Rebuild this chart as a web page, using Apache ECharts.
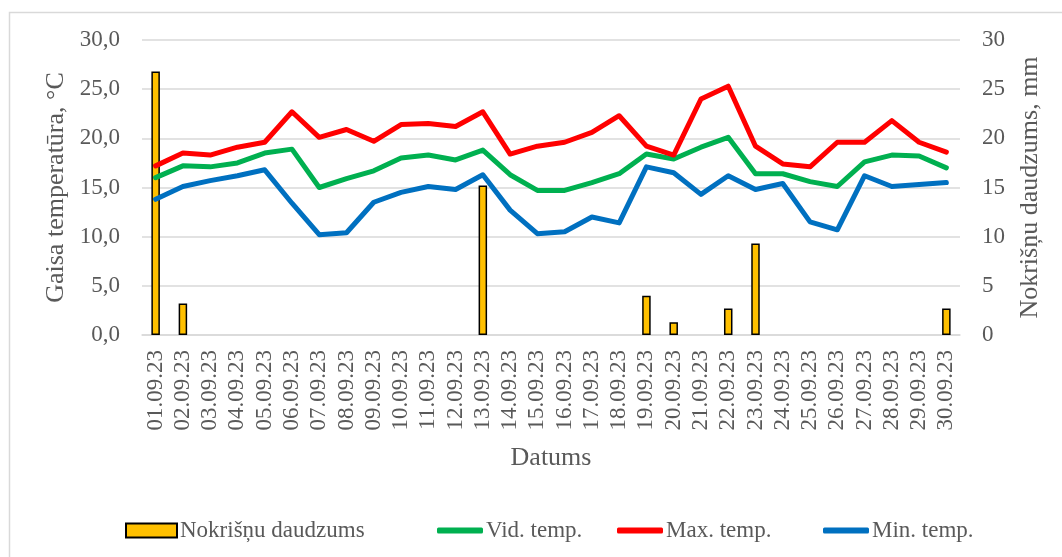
<!DOCTYPE html>
<html>
<head>
<meta charset="utf-8">
<script src="https://cdn.jsdelivr.net/npm/echarts@6/dist/echarts.min.js"></script>
<style>
  html, body { margin: 0; padding: 0; background: #ffffff; }
  #chart { width: 1062px; height: 557px; }
</style>
</head>
<body>
<div id="chart"></div>
<script>
// Daily weather, September 2023
const dates = ['01.09.23','02.09.23','03.09.23','04.09.23','05.09.23','06.09.23','07.09.23','08.09.23','09.09.23','10.09.23',
               '11.09.23','12.09.23','13.09.23','14.09.23','15.09.23','16.09.23','17.09.23','18.09.23','19.09.23','20.09.23',
               '21.09.23','22.09.23','23.09.23','24.09.23','25.09.23','26.09.23','27.09.23','28.09.23','29.09.23','30.09.23'];

// Precipitation, mm
const precipitation = [26.8, 3.2, 0, 0, 0, 0, 0, 0, 0, 0,
                       0, 0, 15.2, 0, 0, 0, 0, 0, 4.0, 1.3,
                       0, 2.7, 9.3, 0, 0, 0, 0, 0, 0, 2.7];

// Air temperature, °C
const avgTemp = [16.0, 17.2, 17.1, 17.5, 18.5, 18.9, 15.0, 15.9, 16.7, 18.0,
                 18.3, 17.8, 18.8, 16.3, 14.7, 14.7, 15.5, 16.4, 18.4, 17.9,
                 19.1, 20.1, 16.4, 16.4, 15.6, 15.1, 17.6, 18.3, 18.2, 17.0];
const maxTemp = [17.2, 18.5, 18.3, 19.1, 19.6, 22.7, 20.1, 20.9, 19.7, 21.4,
                 21.5, 21.2, 22.7, 18.4, 19.2, 19.6, 20.6, 22.3, 19.2, 18.3,
                 24.0, 25.3, 19.2, 17.4, 17.1, 19.6, 19.6, 21.8, 19.6, 18.6];
const minTemp = [13.8, 15.1, 15.7, 16.2, 16.8, 13.4, 10.2, 10.4, 13.5, 14.5,
                 15.1, 14.8, 16.3, 12.7, 10.3, 10.5, 12.0, 11.4, 17.1, 16.5,
                 14.3, 16.2, 14.8, 15.4, 11.5, 10.7, 16.2, 15.1, 15.3, 15.5];

const seriesNames = ['Nokrišņu daudzums', 'Vid. temp.', 'Max. temp.', 'Min. temp.'];

const FONT = '"Liberation Serif", "Times New Roman", serif';
const TEXT = '#595959';
const GRID_LINE = '#d9d9d9';
const LINE_W = 5;

const chart = echarts.init(document.getElementById('chart'), null, { renderer: 'canvas' });

// one legend box per entry so each can sit at its own spot
function legendAt(name, left, w, h, icon) {
  return {
    data: [{ name: name, icon: icon }],
    left: left,
    top: 514,
    itemWidth: w,
    itemHeight: h,
    itemGap: 0,
    selectedMode: false,
    textStyle: { fontFamily: FONT, fontSize: 23, color: TEXT, padding: [0, 0, 0, -2] }
  };
}

const option = {
  animation: false,
  backgroundColor: '#ffffff',
  graphic: [{
    type: 'rect',
    left: 7, top: 10,
    shape: { width: 1200, height: 700 },
    style: { fill: 'none', stroke: GRID_LINE, lineWidth: 1.5 },
    silent: true
  }],
  legend: [
    legendAt(seriesNames[0], 120, 51, 14, 'rect'),
    legendAt(seriesNames[1], 432, 46, 6, 'roundRect'),
    legendAt(seriesNames[2], 612, 46, 6, 'roundRect'),
    legendAt(seriesNames[3], 818, 46, 6, 'roundRect')
  ],
  grid: { left: 142, right: 102, top: 40, bottom: 222, containLabel: false },
  xAxis: {
    type: 'category',
    data: dates,
    boundaryGap: true,
    axisLine: { show: true, lineStyle: { color: GRID_LINE, width: 1.5 } },
    axisTick: { show: false },
    axisLabel: { rotate: 90, margin: 15, fontFamily: FONT, fontSize: 23, color: TEXT, interval: 0 },
    name: 'Datums',
    nameLocation: 'middle',
    nameGap: 110,
    nameTextStyle: { fontFamily: FONT, fontSize: 26, color: TEXT }
  },
  yAxis: [{
    type: 'value',
    min: 0, max: 30, interval: 5,
    axisLine: { show: false },
    axisTick: { show: false },
    splitLine: { lineStyle: { color: GRID_LINE, width: 1.5 } },
    axisLabel: {
      margin: 22, fontFamily: FONT, fontSize: 23, color: TEXT,
      formatter: v => v.toFixed(1).replace('.', ',')
    },
    name: 'Gaisa temperatūra, °C',
    nameLocation: 'middle',
    nameRotate: 90,
    nameGap: 72,
    nameTextStyle: { fontFamily: FONT, fontSize: 26, color: TEXT }
  }, {
    type: 'value',
    min: 0, max: 30, interval: 5,
    position: 'right',
    axisLine: { show: false },
    axisTick: { show: false },
    splitLine: { show: false },
    axisLabel: { margin: 22, fontFamily: FONT, fontSize: 23, color: TEXT },
    name: 'Nokrišņu daudzums, mm',
    nameLocation: 'middle',
    nameRotate: 90,
    nameGap: 57,
    nameTextStyle: { fontFamily: FONT, fontSize: 26, color: TEXT }
  }],
  series: [{
    name: seriesNames[0],
    type: 'bar',
    yAxisIndex: 1,
    data: precipitation.map(v => (v === 0 ? '-' : v)),
    barWidth: 8.5,
    z: 1,
    itemStyle: { color: '#ffc000', borderColor: '#000000', borderWidth: 1.5 }
  }, {
    name: seriesNames[1],
    type: 'line',
    yAxisIndex: 0,
    data: avgTemp,
    symbol: 'none',
    z: 3,
    lineStyle: { color: '#00b050', width: LINE_W, join: 'round', cap: 'round' },
    itemStyle: { color: '#00b050' }
  }, {
    name: seriesNames[2],
    type: 'line',
    yAxisIndex: 0,
    data: maxTemp,
    symbol: 'none',
    z: 3,
    lineStyle: { color: '#ff0000', width: LINE_W, join: 'round', cap: 'round' },
    itemStyle: { color: '#ff0000' }
  }, {
    name: seriesNames[3],
    type: 'line',
    yAxisIndex: 0,
    data: minTemp,
    symbol: 'none',
    z: 3,
    lineStyle: { color: '#0070c0', width: LINE_W, join: 'round', cap: 'round' },
    itemStyle: { color: '#0070c0' }
  }]
};

chart.setOption(option);
</script>
</body>
</html>
